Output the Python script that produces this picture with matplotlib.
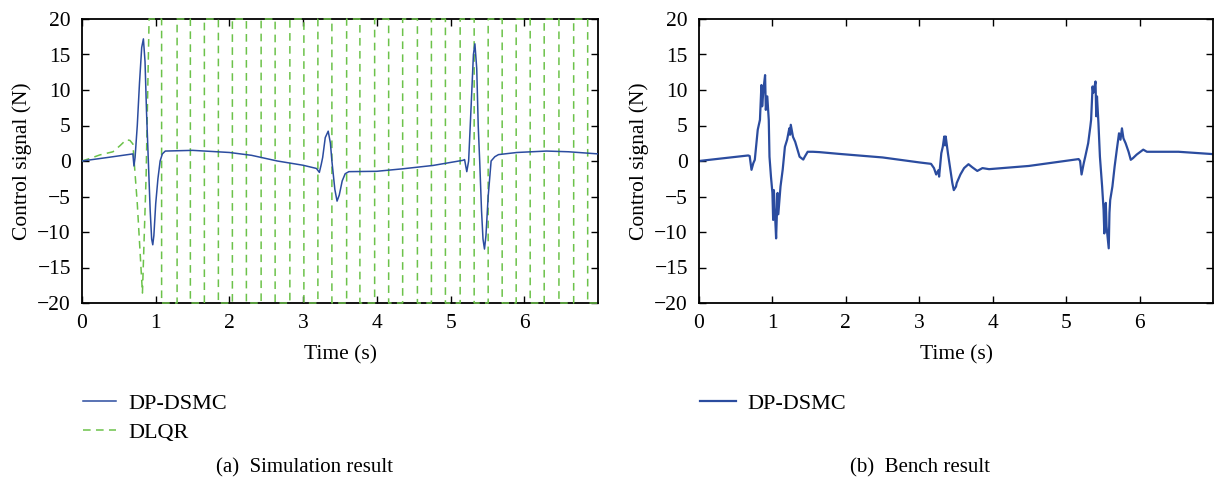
import matplotlib
matplotlib.use("Agg")
import matplotlib.pyplot as plt
import numpy as np

plt.rcParams["font.family"] = ["Liberation Serif", "DejaVu Serif"]
plt.rcParams["font.size"] = 15

BLUE = "#2b4c9f"
GREEN = "#6cc24a"

# DP-DSMC, simulation
sim_t = [0.0, 0.35, 0.69, 0.705, 0.72, 0.75, 0.78, 0.81, 0.833, 0.855, 0.875,
         0.90, 0.925, 0.945, 0.96, 0.975, 1.0, 1.03, 1.06, 1.09, 1.13, 1.5,
         2.0, 2.3, 2.65, 3.0, 3.18, 3.22, 3.245, 3.265, 3.30, 3.34, 3.37,
         3.39, 3.43, 3.46, 3.49, 3.53, 3.57, 3.62, 4.0, 4.35, 4.76, 5.17,
         5.19, 5.22, 5.245, 5.28, 5.31, 5.33, 5.355, 5.375, 5.395, 5.42,
         5.44, 5.46, 5.48, 5.51, 5.55, 5.60, 5.65, 5.9, 6.3, 6.6, 7.0]
sim_u = [0.0, 0.5, 1.0, -0.7, 0.5, 5.0, 11.0, 16.0, 17.2, 14.0, 7.0,
         0.0, -7.0, -11.0, -11.8, -10.5, -6.0, -2.5, 0.0, 1.0, 1.4, 1.5,
         1.2, 0.8, 0.0, -0.6, -1.05, -1.6, -0.5, 0.5, 3.3, 4.2, 2.5,
         0.0, -4.0, -5.65, -4.8, -2.8, -1.8, -1.5, -1.45, -1.1, -0.63, 0.1,
         0.2, -1.5, 0.0, 8.0, 15.0, 16.5, 13.0, 5.0, 0.0, -7.0,
         -11.0, -12.4, -10.5, -5.0, 0.0, 0.6, 0.9, 1.2, 1.4, 1.3, 1.0]

# DLQR, simulation: transient, then saturated switching at +/-20 N
dlqr_t0 = [0.0, 0.12, 0.24, 0.42, 0.52, 0.6, 0.65, 0.69, 0.75, 0.82, 0.87, 0.91]
dlqr_u0 = [0.0, 0.4, 0.85, 1.3, 2.2, 3.0, 2.9, 2.4, -6.0, -18.6, -2.0, 20.0]
dlqr_switch = [1.08, 1.29, 1.47, 1.66, 1.85, 2.04, 2.23, 2.43, 2.62, 2.82,
               3.01, 3.20, 3.39, 3.59, 3.77, 3.97, 4.16, 4.35, 4.55, 4.74,
               4.93, 5.13, 5.32, 5.51, 5.70, 5.89, 6.08, 6.27, 6.47, 6.67,
               6.86]
u_sat = 20.0

# DP-DSMC, bench
bench_t = [0.0, 0.3, 0.67, 0.69, 0.715, 0.74, 0.76, 0.80, 0.83, 0.85, 0.86,
           0.88, 0.90, 0.91, 0.93, 0.95, 0.96, 0.98, 1.0, 1.01, 1.02, 1.045,
           1.05, 1.07, 1.08, 1.11, 1.14, 1.17, 1.20, 1.23, 1.24, 1.25, 1.28,
           1.31, 1.37, 1.42, 1.44, 1.48, 1.55, 1.64, 1.91, 2.5, 3.0, 3.16,
           3.20, 3.23, 3.26, 3.27, 3.30, 3.32, 3.34, 3.35, 3.36, 3.39, 3.43,
           3.45, 3.47, 3.50, 3.51, 3.56, 3.61, 3.67, 3.72, 3.79, 3.86, 3.95,
           4.13, 4.49, 5.17, 5.19, 5.21, 5.24, 5.26, 5.30, 5.33, 5.34, 5.36,
           5.37, 5.38, 5.40, 5.41, 5.42, 5.44, 5.46, 5.49, 5.51, 5.52, 5.54,
           5.55, 5.58, 5.59, 5.60, 5.63, 5.66, 5.69, 5.72, 5.74, 5.76, 5.78,
           5.81, 5.85, 5.88, 5.91, 5.96, 6.05, 6.10, 6.53, 7.0]
bench_u = [0.0, 0.35, 0.78, 0.7, -1.24, -0.3, 0.17, 4.4, 5.8, 10.7, 7.7,
           10.3, 12.1, 7.2, 9.1, 5.8, 0.6, -2.2, -4.5, -8.3, -4.1, -9.7,
           -10.9, -4.5, -7.5, -3.6, -1.2, 2.0, 3.0, 4.6, 3.7, 5.1, 3.4,
           2.7, 0.6, 0.2, 0.6, 1.3, 1.3, 1.25, 1.0, 0.5, -0.2, -0.4,
           -1.0, -1.9, -1.3, -2.2, 1.1, 2.0, 3.45, 2.2, 3.45, 1.1, -1.7,
           -3.1, -4.1, -3.6, -3.1, -1.9, -1.0, -0.45, -0.87, -1.4, -1.0, -1.15,
           -1.0, -0.7, 0.27, 0.0, -1.9, -0.3, 0.6, 2.5, 4.9, 5.8, 10.5,
           9.6, 10.1, 11.2, 6.3, 9.1, 5.3, 0.6, -3.6, -6.9, -10.2, -5.9,
           -9.2, -12.3, -7.3, -5.5, -3.6, -0.8, 1.6, 3.9, 3.0, 4.6, 3.2,
           2.5, 1.3, 0.17, 0.4, 0.9, 1.6, 1.3, 1.3, 0.97]

# square wave for the saturated DLQR part
dlqr_t = list(dlqr_t0)
dlqr_u = list(dlqr_u0)
level = u_sat
for ts in dlqr_switch:
    dlqr_t += [ts, ts]
    dlqr_u += [level, -level]
    level = -level
dlqr_t.append(7.0)
dlqr_u.append(level)

fig = plt.figure(figsize=(12.14, 4.84), dpi=100)
ax1 = fig.add_axes([82 / 1214, 1 - 303 / 484, 516 / 1214, 284 / 484])
ax2 = fig.add_axes([699 / 1214, 1 - 303 / 484, 514 / 1214, 284 / 484])

ax1.plot(sim_t, sim_u, color=BLUE, lw=1.1, label="DP-DSMC", zorder=4)
ax1.plot(dlqr_t, dlqr_u, color=GREEN, lw=1.1, dashes=(5, 3.5),
         label="DLQR", zorder=3, clip_on=False)
ax2.plot(bench_t, bench_u, color=BLUE, lw=1.6, label="DP-DSMC")

for ax in (ax1, ax2):
    ax.set_xlim(0, 7)
    ax.set_ylim(-20, 20)
    ax.set_xticks(range(0, 7))
    ax.set_yticks(range(-20, 21, 5))
    ax.tick_params(direction="in", top=True, right=True, length=5,
                   width=1.0, labelsize=15.5, pad=8)
    for sp in ax.spines.values():
        sp.set_linewidth(1.3)
    ax.set_xlabel("Time (s)", fontsize=15.5, labelpad=9)
    ax.set_ylabel("Control signal (N)", fontsize=15.5, labelpad=4)

ax1.legend(loc="upper left", bbox_to_anchor=(83 / 1214, 1 - 393 / 484),
           bbox_transform=fig.transFigure, frameon=False, fontsize=16,
           handlelength=1.5, handletextpad=0.55, labelspacing=0.4,
           borderpad=0, borderaxespad=0)
ax2.legend(loc="upper left", bbox_to_anchor=(700 / 1214, 1 - 393 / 484),
           bbox_transform=fig.transFigure, frameon=False, fontsize=16,
           handlelength=1.6, handletextpad=0.55, borderpad=0,
           borderaxespad=0)

fig.text(304 / 1214, 1 - 468 / 484, "(a)  Simulation result", ha="center",
         va="center", fontsize=15)
fig.text(920 / 1214, 1 - 468 / 484, "(b)  Bench result", ha="center",
         va="center", fontsize=15)

fig.savefig("out.png", dpi=100)
